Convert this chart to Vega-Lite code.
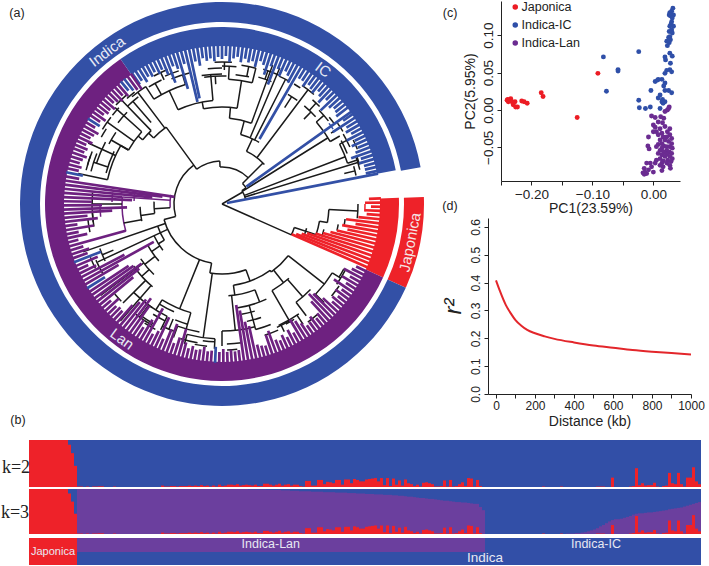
{"$schema":"https://vega.github.io/schema/vega-lite/v6.json","width":709,"height":566,"autosize":{"type":"fit","contains":"padding"},"padding":0,"background":"white","config":{"view":{"stroke":null},"font":"Liberation Sans","axis":{"grid":false,"labelFont":"Liberation Sans","titleFont":"Liberation Sans","labelColor":"#222","titleColor":"#222","domainColor":"#222","tickColor":"#222","titleFontWeight":"normal","labelFlush":false}},
"datasets":{
"samples":[{"s":1,"r":1,"p":0},{"s":2,"r":1,"p":0},{"s":3,"r":1,"p":0},{"s":4,"r":1,"p":0},{"s":5,"r":1,"p":0},{"s":6,"r":1,"p":0},{"s":7,"r":1,"p":0},{"s":8,"r":1,"p":0},{"s":9,"r":1,"p":0},{"s":10,"r":1,"p":0},{"s":11,"r":1,"p":0},{"s":12,"r":1,"p":0},{"s":13,"r":1,"p":0},{"s":14,"r":0.9,"p":0},{"s":15,"r":0.72,"p":0},{"s":16,"r":0.45,"p":0},{"s":17,"r":0.01,"p":1},{"s":18,"r":0.01,"p":1},{"s":19,"r":0,"p":1},{"s":20,"r":0.01,"p":1},{"s":21,"r":0,"p":1},{"s":22,"r":0.01,"p":1},{"s":23,"r":0.01,"p":1},{"s":24,"r":0.015,"p":1},{"s":25,"r":0.015,"p":1},{"s":26,"r":0,"p":1},{"s":27,"r":0,"p":1},{"s":28,"r":0,"p":1},{"s":29,"r":0.01,"p":1},{"s":30,"r":0,"p":1},{"s":31,"r":0,"p":1},{"s":32,"r":0,"p":1},{"s":33,"r":0,"p":1},{"s":34,"r":0,"p":1},{"s":35,"r":0,"p":1},{"s":36,"r":0,"p":1},{"s":37,"r":0,"p":1},{"s":38,"r":0,"p":1},{"s":39,"r":0,"p":1},{"s":40,"r":0,"p":1},{"s":41,"r":0,"p":1},{"s":42,"r":0,"p":1},{"s":43,"r":0,"p":1},{"s":44,"r":0,"p":1},{"s":45,"r":0.03,"p":1},{"s":46,"r":0.01,"p":1},{"s":47,"r":0.01,"p":1},{"s":48,"r":0.02,"p":1},{"s":49,"r":0.02,"p":1},{"s":50,"r":0.01,"p":1},{"s":51,"r":0.02,"p":1},{"s":52,"r":0.02,"p":1},{"s":53,"r":0.02,"p":1},{"s":54,"r":0.03,"p":1},{"s":55,"r":0.02,"p":1},{"s":56,"r":0.03,"p":1},{"s":57,"r":0.02,"p":1},{"s":58,"r":0.04,"p":1},{"s":59,"r":0.02,"p":1},{"s":60,"r":0.03,"p":1},{"s":61,"r":0.01,"p":1},{"s":62,"r":0.03,"p":1},{"s":63,"r":0.01,"p":1},{"s":64,"r":0.05,"p":1},{"s":65,"r":0.02,"p":1},{"s":66,"r":0.03,"p":1},{"s":67,"r":0.05,"p":1},{"s":68,"r":0.05,"p":1},{"s":69,"r":0.04,"p":1},{"s":70,"r":0.06,"p":1},{"s":71,"r":0.03,"p":1},{"s":72,"r":0.04,"p":1},{"s":73,"r":0.05,"p":1},{"s":74,"r":0.04,"p":0.99},{"s":75,"r":0.03,"p":0.99},{"s":76,"r":0.05,"p":0.99},{"s":77,"r":0.02,"p":0.99},{"s":78,"r":0.02,"p":0.99},{"s":79,"r":0.07,"p":0.99},{"s":80,"r":0.07,"p":0.98},{"s":81,"r":0.05,"p":0.98},{"s":82,"r":0.03,"p":0.98},{"s":83,"r":0.05,"p":0.98},{"s":84,"r":0.07,"p":0.98},{"s":85,"r":0.03,"p":0.97},{"s":86,"r":0.05,"p":0.97},{"s":87,"r":0.06,"p":0.97},{"s":88,"r":0.03,"p":0.96},{"s":89,"r":0.05,"p":0.96},{"s":90,"r":0.05,"p":0.96},{"s":91,"r":0.02,"p":0.95},{"s":92,"r":0.01,"p":0.95},{"s":93,"r":0.13,"p":0.95},{"s":94,"r":0.13,"p":0.95},{"s":95,"r":0.03,"p":0.94},{"s":96,"r":0.03,"p":0.94},{"s":97,"r":0.15,"p":0.94},{"s":98,"r":0.15,"p":0.94},{"s":99,"r":0.06,"p":0.93},{"s":100,"r":0.11,"p":0.93},{"s":101,"r":0.1,"p":0.93},{"s":102,"r":0.08,"p":0.93},{"s":103,"r":0.15,"p":0.92},{"s":104,"r":0.15,"p":0.92},{"s":105,"r":0.05,"p":0.92},{"s":106,"r":0.16,"p":0.92},{"s":107,"r":0.16,"p":0.91},{"s":108,"r":0.08,"p":0.91},{"s":109,"r":0.17,"p":0.91},{"s":110,"r":0.15,"p":0.9},{"s":111,"r":0.12,"p":0.9},{"s":112,"r":0.12,"p":0.9},{"s":113,"r":0.16,"p":0.89},{"s":114,"r":0.17,"p":0.89},{"s":115,"r":0.18,"p":0.89},{"s":116,"r":0.19,"p":0.88},{"s":117,"r":0.12,"p":0.88},{"s":118,"r":0.19,"p":0.88},{"s":119,"r":0.04,"p":0.87},{"s":120,"r":0.19,"p":0.87},{"s":121,"r":0.02,"p":0.87},{"s":122,"r":0.18,"p":0.86},{"s":123,"r":0.05,"p":0.86},{"s":124,"r":0.14,"p":0.85},{"s":125,"r":0.03,"p":0.85},{"s":126,"r":0.16,"p":0.84},{"s":127,"r":0.08,"p":0.83},{"s":128,"r":0.06,"p":0.83},{"s":129,"r":0.02,"p":0.82},{"s":130,"r":0.05,"p":0.81},{"s":131,"r":0.01,"p":0.8},{"s":132,"r":0.09,"p":0.8},{"s":133,"r":0.1,"p":0.79},{"s":134,"r":0.08,"p":0.78},{"s":135,"r":0.06,"p":0.78},{"s":136,"r":0.01,"p":0.77},{"s":137,"r":0.01,"p":0.76},{"s":138,"r":0.02,"p":0.75},{"s":139,"r":0.14,"p":0.74},{"s":140,"r":0.01,"p":0.74},{"s":141,"r":0.15,"p":0.73},{"s":142,"r":0.01,"p":0.72},{"s":143,"r":0.02,"p":0.71},{"s":144,"r":0.06,"p":0.71},{"s":145,"r":0.1,"p":0.7},{"s":146,"r":0.02,"p":0.7},{"s":147,"r":0.19,"p":0.69},{"s":148,"r":0.18,"p":0.68},{"s":149,"r":0.01,"p":0.67},{"s":150,"r":0.15,"p":0.67},{"s":151,"r":0.02,"p":0.6},{"s":152,"r":0,"p":0.53},{"s":153,"r":0,"p":0},{"s":154,"r":0,"p":0},{"s":155,"r":0,"p":0},{"s":156,"r":0,"p":0},{"s":157,"r":0,"p":0},{"s":158,"r":0,"p":0},{"s":159,"r":0,"p":0},{"s":160,"r":0,"p":0},{"s":161,"r":0,"p":0},{"s":162,"r":0,"p":0},{"s":163,"r":0,"p":0},{"s":164,"r":0,"p":0},{"s":165,"r":0,"p":0},{"s":166,"r":0,"p":0},{"s":167,"r":0,"p":0},{"s":168,"r":0,"p":0},{"s":169,"r":0,"p":0},{"s":170,"r":0,"p":0},{"s":171,"r":0,"p":0},{"s":172,"r":0.01,"p":0},{"s":173,"r":0,"p":0},{"s":174,"r":0,"p":0},{"s":175,"r":0,"p":0},{"s":176,"r":0,"p":0},{"s":177,"r":0,"p":0},{"s":178,"r":0.01,"p":0},{"s":179,"r":0,"p":0},{"s":180,"r":0,"p":0.01},{"s":181,"r":0,"p":0.01},{"s":182,"r":0,"p":0.01},{"s":183,"r":0,"p":0.02},{"s":184,"r":0,"p":0.02},{"s":185,"r":0,"p":0.03},{"s":186,"r":0,"p":0.04},{"s":187,"r":0,"p":0.06},{"s":188,"r":0,"p":0.08},{"s":189,"r":0,"p":0.1},{"s":190,"r":0.01,"p":0.13},{"s":191,"r":0.01,"p":0.17},{"s":192,"r":0.01,"p":0.2},{"s":193,"r":0,"p":0.24},{"s":194,"r":0,"p":0.28},{"s":195,"r":0.2,"p":0.31},{"s":196,"r":0,"p":0.33},{"s":197,"r":0,"p":0.33},{"s":198,"r":0,"p":0.34},{"s":199,"r":0,"p":0.36},{"s":200,"r":0,"p":0.38},{"s":201,"r":0.01,"p":0.4},{"s":202,"r":0.02,"p":0.43},{"s":203,"r":0.4,"p":0.45},{"s":204,"r":0.04,"p":0.46},{"s":205,"r":0.08,"p":0.46},{"s":206,"r":0.03,"p":0.47},{"s":207,"r":0.04,"p":0.48},{"s":208,"r":0.04,"p":0.48},{"s":209,"r":0.09,"p":0.49},{"s":210,"r":0.01,"p":0.5},{"s":211,"r":0,"p":0.51},{"s":212,"r":0.02,"p":0.52},{"s":213,"r":0.03,"p":0.53},{"s":214,"r":0.3,"p":0.55},{"s":215,"r":0.08,"p":0.56},{"s":216,"r":0.06,"p":0.57},{"s":217,"r":0.3,"p":0.58},{"s":218,"r":0.06,"p":0.59},{"s":219,"r":0.01,"p":0.61},{"s":220,"r":0.2,"p":0.63},{"s":221,"r":0.2,"p":0.65},{"s":222,"r":0.42,"p":0.67},{"s":223,"r":0.12,"p":0.69},{"s":224,"r":0.06,"p":0.71}],
"branches":[{"a":-3,"b":45,"r":37,"s":37,"k":"B"},{"a":-3,"b":-3,"r":37,"s":43,"k":"B"},{"a":-36,"b":-3,"r":43,"s":43,"k":"B"},{"a":-36,"b":-36,"r":43,"s":48,"k":"B"},{"a":-105,"b":-36,"r":48,"s":48,"k":"B"},{"a":-105,"b":-105,"r":48,"s":60,"k":"B"},{"a":-170,"b":-105,"r":60,"s":60,"k":"B"},{"a":190,"b":190,"r":60,"s":70,"k":"B"},{"a":160,"b":190,"r":70,"s":70,"k":"B"},{"a":60,"b":60,"r":0,"s":24,"k":"B"},{"a":56,"b":78,"r":24,"s":24,"k":"B"},{"a":56,"b":56,"r":24,"s":29,"k":"B"},{"a":45,"b":56,"r":29,"s":29,"k":"B"},{"a":45,"b":45,"r":29,"s":58,"k":"B"},{"a":114,"b":114,"r":0,"s":76,"k":"B"},
{"a":73,"b":73,"r":24,"s":142,"k":"B"},{"a":71,"b":76,"r":142,"s":142,"k":"B"},{"a":69,"b":69,"r":24,"s":132,"k":"B"},{"a":63,"b":72,"r":132,"s":132,"k":"B"},{"a":72,"b":72,"r":132,"s":143,"k":"B"},{"a":63,"b":63,"r":132,"s":140,"k":"B"},{"a":60,"b":66,"r":140,"s":140,"k":"B"},{"a":58,"b":58,"r":24,"s":125,"k":"B"},{"a":49,"b":60,"r":125,"s":125,"k":"B"},{"a":60,"b":60,"r":125,"s":136,"k":"B"},{"a":49,"b":49,"r":125,"s":135,"k":"B"},{"a":46,"b":52,"r":135,"s":135,"k":"B"},{"a":53,"b":56,"r":134,"s":134,"k":"I"},
{"a":25,"b":47,"r":58,"s":58,"k":"B"},{"a":37,"b":37,"r":58,"s":143,"k":"B"},{"a":34,"b":40,"r":143,"s":143,"k":"B"},{"a":25,"b":25,"r":58,"s":72,"k":"B"},{"a":15,"b":31,"r":72,"s":72,"k":"B"},{"a":27,"b":27,"r":72,"s":140,"k":"B"},{"a":24,"b":29,"r":140,"s":140,"k":"B"},{"a":23,"b":23,"r":72,"s":148,"k":"B"},{"a":15,"b":15,"r":72,"s":86,"k":"B"},{"a":5,"b":20,"r":86,"s":86,"k":"B"},{"a":20,"b":20,"r":86,"s":148,"k":"B"},{"a":5,"b":5,"r":86,"s":97,"k":"B"},{"a":-11,"b":9,"r":97,"s":97,"k":"B"},{"a":9,"b":9,"r":97,"s":125,"k":"B"},{"a":3,"b":14,"r":125,"s":125,"k":"B"},{"a":14,"b":14,"r":125,"s":140,"k":"B"},{"a":3,"b":3,"r":125,"s":138,"k":"B"},{"a":0,"b":6,"r":138,"s":138,"k":"B"},{"a":-11,"b":-11,"r":97,"s":104,"k":"B"},{"a":-25,"b":-5,"r":104,"s":104,"k":"B"},{"a":-5,"b":-5,"r":104,"s":130,"k":"B"},{"a":-9,"b":0,"r":130,"s":130,"k":"B"},{"a":-25,"b":-25,"r":104,"s":125,"k":"B"},{"a":-33,"b":-17,"r":125,"s":125,"k":"B"},{"a":-17,"b":-17,"r":125,"s":135,"k":"B"},{"a":-22,"b":-14,"r":135,"s":135,"k":"B"},{"a":-33,"b":-33,"r":125,"s":140,"k":"B"},{"a":-29,"b":-29,"r":125,"s":138,"k":"B"},{"a":-32,"b":-26,"r":138,"s":138,"k":"B"},
{"a":-36,"b":-36,"r":48,"s":95,"k":"B"},{"a":-46,"b":-36,"r":95,"s":95,"k":"B"},{"a":-37,"b":-37,"r":95,"s":140,"k":"B"},{"a":-40,"b":-33,"r":140,"s":140,"k":"B"},{"a":-46,"b":-46,"r":95,"s":102,"k":"B"},{"a":-51,"b":-44,"r":102,"s":102,"k":"B"},{"a":-44,"b":-44,"r":102,"s":145,"k":"B"},{"a":-47,"b":-41,"r":145,"s":145,"k":"B"},{"a":-51,"b":-51,"r":102,"s":108,"k":"B"},{"a":-60,"b":-48,"r":108,"s":108,"k":"B"},{"a":-48,"b":-48,"r":108,"s":144,"k":"B"},{"a":-54.5,"b":-54.5,"r":108,"s":141,"k":"B"},{"a":-58,"b":-52,"r":141,"s":141,"k":"B"},{"a":-60,"b":-60,"r":108,"s":117,"k":"B"},{"a":-78,"b":-60,"r":117,"s":117,"k":"B"},{"a":-65.5,"b":-65.5,"r":117,"s":147,"k":"B"},{"a":-78,"b":-78,"r":117,"s":147,"k":"B"},{"a":-72,"b":-62,"r":132,"s":132,"k":"B"},{"a":-76,"b":-68,"r":140,"s":140,"k":"B"},
{"a":266,"b":280,"r":52,"s":52,"k":"L"},{"a":274,"b":274,"r":52,"s":100,"k":"L"},{"a":254,"b":274,"r":100,"s":100,"k":"L"},{"a":266,"b":266,"r":52,"s":68,"k":"B"},{"a":262,"b":272,"r":68,"s":68,"k":"B"},{"a":262,"b":262,"r":68,"s":82,"k":"B"},{"a":258,"b":268,"r":82,"s":82,"k":"B"},{"a":259,"b":259,"r":82,"s":100,"k":"B"},{"a":270,"b":270,"r":100,"s":130,"k":"B"},{"a":262,"b":275,"r":130,"s":130,"k":"B"},{"a":258,"b":264,"r":135,"s":135,"k":"B"},{"a":264,"b":270,"r":122,"s":122,"k":"L"},{"a":272,"b":278,"r":88,"s":88,"k":"L"},{"a":271,"b":276,"r":110,"s":110,"k":"L"},
{"a":251,"b":251,"r":60,"s":147,"k":"B"},{"a":245,"b":245,"r":60,"s":137,"k":"B"},{"a":238,"b":251,"r":68,"s":68,"k":"B"},{"a":238,"b":238,"r":68,"s":75,"k":"B"},{"a":232,"b":245,"r":75,"s":75,"k":"B"},{"a":236,"b":236,"r":75,"s":85,"k":"B"},{"a":228,"b":241,"r":85,"s":85,"k":"B"},{"a":232,"b":232,"r":85,"s":98,"k":"B"},{"a":224,"b":236,"r":98,"s":98,"k":"B"},{"a":233,"b":233,"r":98,"s":152,"k":"B"},{"a":228,"b":228,"r":98,"s":108,"k":"B"},{"a":220,"b":235,"r":108,"s":108,"k":"B"},{"a":225,"b":225,"r":108,"s":140,"k":"B"},{"a":221,"b":221,"r":108,"s":155,"k":"B"},{"a":214,"b":225,"r":125,"s":125,"k":"B"},{"a":216,"b":216,"r":125,"s":140,"k":"B"},{"a":210,"b":218,"r":140,"s":140,"k":"B"},
{"a":160,"b":160,"r":70,"s":82,"k":"B"},{"a":144,"b":172,"r":82,"s":82,"k":"B"},{"a":144,"b":144,"r":82,"s":84,"k":"B"},{"a":128,"b":144,"r":84,"s":84,"k":"B"},{"a":128,"b":128,"r":84,"s":130,"k":"B"},{"a":122,"b":134,"r":130,"s":130,"k":"B"},{"a":122,"b":122,"r":130,"s":140,"k":"B"},{"a":118,"b":125,"r":140,"s":140,"k":"B"},{"a":134,"b":134,"r":130,"s":142,"k":"B"},{"a":142,"b":142,"r":84,"s":100,"k":"B"},{"a":138,"b":150,"r":100,"s":100,"k":"B"},{"a":139,"b":139,"r":100,"s":123,"k":"B"},{"a":134,"b":143,"r":123,"s":123,"k":"B"},{"a":143,"b":143,"r":123,"s":140,"k":"B"},{"a":150,"b":150,"r":100,"s":134,"k":"B"},{"a":145,"b":155,"r":134,"s":134,"k":"B"},{"a":146,"b":146,"r":134,"s":145,"k":"B"},{"a":154,"b":154,"r":134,"s":142,"k":"B"},{"a":172,"b":172,"r":82,"s":92,"k":"B"},{"a":159,"b":176,"r":92,"s":92,"k":"B"},{"a":159,"b":159,"r":92,"s":105,"k":"B"},{"a":155,"b":172,"r":105,"s":105,"k":"B"},{"a":174,"b":174,"r":92,"s":127,"k":"B"},{"a":165,"b":180,"r":127,"s":127,"k":"B"},{"a":165,"b":165,"r":105,"s":130,"k":"B"},{"a":180,"b":180,"r":127,"s":142,"k":"B"},{"a":163,"b":170,"r":112,"s":112,"k":"B"},{"a":161,"b":168,"r":120,"s":120,"k":"B"},{"a":158,"b":165,"r":130,"s":130,"k":"B"},{"a":156,"b":162,"r":138,"s":138,"k":"B"},{"a":188,"b":188,"r":70,"s":135,"k":"B"},{"a":183,"b":195,"r":135,"s":135,"k":"B"},{"a":183,"b":183,"r":135,"s":145,"k":"B"},{"a":195,"b":195,"r":135,"s":145,"k":"B"},{"a":190,"b":197,"r":141,"s":141,"k":"B"},{"a":202,"b":202,"r":60,"s":113,"k":"B"},{"a":196,"b":212,"r":113,"s":113,"k":"B"},{"a":196,"b":196,"r":113,"s":130,"k":"B"},{"a":212,"b":212,"r":113,"s":125,"k":"B"},{"a":206,"b":216,"r":125,"s":125,"k":"B"},{"a":206,"b":206,"r":125,"s":140,"k":"B"},{"a":190,"b":200,"r":130,"s":130,"k":"B"},{"a":200,"b":200,"r":130,"s":142,"k":"B"},{"a":208,"b":213,"r":142,"s":142,"k":"B"},
{"a":108,"b":114,"r":76,"s":76,"k":"B"},{"a":108,"b":108,"r":76,"s":99,"k":"B"},{"a":100,"b":108,"r":99,"s":99,"k":"B"},{"a":100,"b":100,"r":99,"s":107,"k":"B"},{"a":93,"b":100,"r":107,"s":107,"k":"B"},{"a":93,"b":93,"r":107,"s":136,"k":"B"},{"a":90,"b":96,"r":136,"s":136,"k":"B"},{"a":106,"b":110,"r":88,"s":88,"k":"B"},{"a":104,"b":108,"r":105,"s":105,"k":"B"},{"a":100,"b":103,"r":118,"s":118,"k":"B"},{"a":97,"b":100,"r":124,"s":124,"k":"B"},{"a":90,"b":93,"r":143,"s":143,"k":"J"},
{"a":-24,"b":-18,"r":140,"s":140,"k":"B"},{"a":-21,"b":-21,"r":132,"s":140,"k":"B"},{"a":-28,"b":-22,"r":145,"s":145,"k":"B"},{"a":-25,"b":-25,"r":137,"s":145,"k":"B"},{"a":-8,"b":2,"r":128,"s":128,"k":"B"},{"a":-3,"b":-3,"r":120,"s":128,"k":"B"},{"a":-6,"b":0,"r":136,"s":136,"k":"B"},{"a":-3,"b":4,"r":142,"s":142,"k":"B"},{"a":1,"b":1,"r":134,"s":142,"k":"B"},{"a":6,"b":12,"r":130,"s":130,"k":"B"},{"a":8,"b":14,"r":140,"s":140,"k":"B"},{"a":11,"b":11,"r":130,"s":140,"k":"B"},{"a":16,"b":22,"r":132,"s":132,"k":"B"},{"a":17,"b":24,"r":141,"s":141,"k":"B"},{"a":19,"b":19,"r":132,"s":141,"k":"B"},{"a":40,"b":47,"r":128,"s":128,"k":"B"},{"a":44,"b":44,"r":118,"s":128,"k":"B"},{"a":41,"b":45,"r":138,"s":138,"k":"B"},{"a":43,"b":43,"r":128,"s":138,"k":"B"},{"a":51,"b":54,"r":138,"s":138,"k":"B"},{"a":55,"b":59,"r":141,"s":141,"k":"B"},{"a":57,"b":57,"r":130,"s":141,"k":"B"},{"a":62,"b":68,"r":135,"s":135,"k":"B"},{"a":74,"b":78,"r":137,"s":137,"k":"B"},{"a":76,"b":76,"r":126,"s":137,"k":"B"},{"a":70,"b":74,"r":143,"s":143,"k":"B"},{"a":31,"b":36,"r":128,"s":128,"k":"B"},{"a":33,"b":33,"r":115,"s":128,"k":"B"},{"a":31,"b":34,"r":140,"s":140,"k":"B"},{"a":64,"b":68,"r":146,"s":146,"k":"B"},
{"a":284,"b":292,"r":135,"s":135,"k":"B"},{"a":288,"b":288,"r":120,"s":135,"k":"B"},{"a":286,"b":290,"r":140,"s":140,"k":"B"},{"a":298,"b":304,"r":128,"s":128,"k":"B"},{"a":300,"b":300,"r":108,"s":128,"k":"B"},{"a":299,"b":303,"r":138,"s":138,"k":"B"},{"a":308,"b":314,"r":132,"s":132,"k":"B"},{"a":309,"b":313,"r":141,"s":141,"k":"B"},{"a":316,"b":322,"r":136,"s":136,"k":"B"},{"a":319,"b":319,"r":108,"s":136,"k":"B"},{"a":318,"b":322,"r":142,"s":142,"k":"B"},{"a":285,"b":296,"r":120,"s":120,"k":"B"},{"a":260,"b":266,"r":130,"s":130,"k":"B"},{"a":240,"b":246,"r":138,"s":138,"k":"B"},{"a":244,"b":250,"r":130,"s":130,"k":"B"},{"a":247,"b":247,"r":118,"s":130,"k":"B"},{"a":243,"b":248,"r":142,"s":142,"k":"B"},{"a":196,"b":202,"r":125,"s":125,"k":"B"},{"a":200,"b":206,"r":136,"s":136,"k":"B"},{"a":203,"b":203,"r":125,"s":136,"k":"B"},{"a":204,"b":212,"r":118,"s":118,"k":"B"},{"a":206,"b":212,"r":130,"s":130,"k":"B"},{"a":210,"b":216,"r":138,"s":138,"k":"B"},{"a":226,"b":230,"r":140,"s":140,"k":"B"},{"a":183,"b":188,"r":138,"s":138,"k":"B"},{"a":186,"b":191,"r":143,"s":143,"k":"B"},{"a":172,"b":178,"r":140,"s":140,"k":"B"},{"a":174,"b":178,"r":146,"s":146,"k":"B"},{"a":150,"b":156,"r":135,"s":135,"k":"B"},{"a":118,"b":122,"r":138,"s":138,"k":"B"},{"a":125,"b":130,"r":143,"s":143,"k":"B"},{"a":139,"b":144,"r":146,"s":146,"k":"B"},{"a":148,"b":152,"r":136,"s":136,"k":"B"}],
"leaves":[{"t":-34.5,"r":145,"k":"I"},{"t":-33,"r":147,"k":"I"},{"t":-31.5,"r":143,"k":"I"},{"t":-30,"r":147,"k":"I"},{"t":-28.5,"r":145,"k":"I"},{"t":-27,"r":148,"k":"I"},{"t":-25.5,"r":144,"k":"I"},{"t":-24,"r":147,"k":"I"},{"t":-22.5,"r":140,"k":"I"},{"t":-21,"r":130,"k":"I"},{"t":-19.5,"r":146,"k":"I"},{"t":-18,"r":142,"k":"I"},{"t":-16.5,"r":120,"k":"I"},{"t":-15,"r":145,"k":"I"},{"t":-13.5,"r":105,"k":"I"},{"t":-12,"r":108,"k":"I"},{"t":-10.5,"r":145,"k":"I"},{"t":-9,"r":140,"k":"I"},{"t":-7.5,"r":147,"k":"I"},{"t":-6,"r":144,"k":"I"},{"t":-4.5,"r":146,"k":"I"},{"t":-3,"r":143,"k":"I"},{"t":-1.5,"r":147,"k":"I"},{"t":0,"r":145,"k":"I"},{"t":1.5,"r":148,"k":"I"},{"t":3,"r":142,"k":"I"},{"t":4.5,"r":146,"k":"I"},{"t":6,"r":148,"k":"I"},{"t":7.5,"r":143,"k":"I"},{"t":9,"r":147,"k":"I"},{"t":10.5,"r":144,"k":"I"},{"t":12,"r":146,"k":"I"},{"t":13.5,"r":141,"k":"I"},{"t":15,"r":148,"k":"I"},{"t":16.5,"r":145,"k":"I"},{"t":18,"r":136,"k":"I"},{"t":19.5,"r":146,"k":"I"},{"t":21,"r":128,"k":"I"},{"t":22.5,"r":146,"k":"I"},{"t":24,"r":140,"k":"I"},{"t":25.5,"r":147,"k":"I"},{"t":27,"r":144,"k":"I"},{"t":28.5,"r":138,"k":"I"},{"t":30,"r":75,"k":"I"},{"t":31.5,"r":147,"k":"I"},{"t":33,"r":147,"k":"I"},{"t":34.5,"r":143,"k":"I"},{"t":36,"r":147,"k":"I"},{"t":37.5,"r":145,"k":"I"},{"t":39,"r":143,"k":"I"},{"t":40.5,"r":148,"k":"I"},{"t":42,"r":145,"k":"I"},{"t":43.5,"r":140,"k":"I"},{"t":45,"r":147,"k":"I"},{"t":46.5,"r":136,"k":"I"},{"t":48,"r":144,"k":"I"},{"t":49.5,"r":147,"k":"I"},{"t":51,"r":146,"k":"I"},{"t":52.5,"r":144,"k":"I"},{"t":54.5,"r":30,"k":"I"},{"t":55.5,"r":147,"k":"I"},{"t":57,"r":132,"k":"I"},{"t":58.5,"r":146,"k":"I"},{"t":60,"r":143,"k":"I"},{"t":61.5,"r":147,"k":"I"},{"t":63,"r":140,"k":"I"},{"t":64.5,"r":147,"k":"I"},{"t":66,"r":142,"k":"I"},{"t":67.5,"r":147,"k":"I"},{"t":69,"r":143,"k":"I"},{"t":70.5,"r":137,"k":"I"},{"t":72,"r":146,"k":"I"},{"t":73.5,"r":143,"k":"I"},{"t":75,"r":147,"k":"I"},{"t":76.5,"r":147,"k":"I"},{"t":78,"r":147,"k":"I"},{"t":79,"r":5,"k":"I"},
{"t":88,"r":147,"k":"J"},{"t":89.5,"r":143,"k":"J"},{"t":91,"r":149,"k":"J"},{"t":92.5,"r":143,"k":"J"},{"t":94,"r":145,"k":"J"},{"t":95.5,"r":137,"k":"J"},{"t":97,"r":125,"k":"J"},{"t":98.5,"r":135,"k":"J"},{"t":100,"r":122,"k":"J"},{"t":101.5,"r":128,"k":"J"},{"t":103,"r":118,"k":"J"},{"t":104.5,"r":112,"k":"J"},{"t":106,"r":105,"k":"J"},{"t":107.5,"r":98,"k":"J"},{"t":109,"r":90,"k":"J"},{"t":110.5,"r":85,"k":"J"},{"t":112,"r":80,"k":"J"},{"t":113.5,"r":76,"k":"J"},
{"t":115,"r":148,"k":"L"},{"t":116.5,"r":145,"k":"L"},{"t":118,"r":138,"k":"L"},{"t":119.5,"r":147,"k":"L"},{"t":121,"r":140,"k":"L"},{"t":122.5,"r":147,"k":"L"},{"t":124,"r":135,"k":"L"},{"t":125.5,"r":147,"k":"L"},{"t":127,"r":142,"k":"L"},{"t":128.5,"r":148,"k":"L"},{"t":130,"r":144,"k":"L"},{"t":131.5,"r":147,"k":"L"},{"t":133,"r":138,"k":"L"},{"t":134.5,"r":128,"k":"L"},{"t":136,"r":125,"k":"L"},{"t":137.5,"r":132,"k":"L"},{"t":139,"r":145,"k":"L"},{"t":140.5,"r":148,"k":"L"},{"t":142,"r":143,"k":"L"},{"t":143.5,"r":147,"k":"L"},{"t":145,"r":148,"k":"L"},{"t":146.5,"r":143,"k":"L"},{"t":148,"r":138,"k":"L"},{"t":149.5,"r":134,"k":"L"},{"t":151,"r":147,"k":"L"},{"t":152.5,"r":142,"k":"L"},{"t":154,"r":148,"k":"L"},{"t":155.5,"r":144,"k":"L"},{"t":157,"r":148,"k":"L"},{"t":158.5,"r":146,"k":"L"},{"t":160,"r":135,"k":"L"},{"t":161.5,"r":138,"k":"L"},{"t":163,"r":148,"k":"L"},{"t":164.5,"r":147,"k":"L"},{"t":166,"r":145,"k":"L"},{"t":167.5,"r":125,"k":"L"},{"t":169,"r":120,"k":"L"},{"t":170.5,"r":108,"k":"L"},{"t":172,"r":102,"k":"L"},{"t":173.5,"r":147,"k":"L"},{"t":175,"r":148,"k":"L"},{"t":176.5,"r":146,"k":"L"},{"t":178,"r":148,"k":"L"},{"t":179.5,"r":145,"k":"L"},{"t":181,"r":148,"k":"L"},{"t":182.5,"r":143,"k":"I"},{"t":184,"r":147,"k":"L"},{"t":185.5,"r":148,"k":"L"},{"t":187,"r":144,"k":"L"},{"t":188.5,"r":147,"k":"L"},{"t":190,"r":148,"k":"L"},{"t":191.5,"r":145,"k":"L"},{"t":193,"r":148,"k":"L"},{"t":194.5,"r":143,"k":"L"},{"t":196,"r":130,"k":"L"},{"t":197.5,"r":140,"k":"L"},{"t":199,"r":147,"k":"L"},{"t":200.5,"r":128,"k":"L"},{"t":202,"r":135,"k":"L"},{"t":203.5,"r":147,"k":"L"},{"t":205,"r":125,"k":"L"},{"t":206.5,"r":142,"k":"L"},{"t":208,"r":147,"k":"L"},{"t":209.5,"r":120,"k":"L"},{"t":211,"r":135,"k":"L"},{"t":212.5,"r":146,"k":"L"},{"t":214,"r":140,"k":"L"},{"t":215.5,"r":125,"k":"L"},{"t":217,"r":118,"k":"L"},{"t":218.5,"r":122,"k":"L"},{"t":220,"r":128,"k":"L"},{"t":221.5,"r":135,"k":"L"},{"t":223,"r":146,"k":"L"},{"t":224.5,"r":145,"k":"L"},{"t":226,"r":147,"k":"L"},{"t":227.5,"r":140,"k":"L"},{"t":229,"r":147,"k":"L"},{"t":230.5,"r":115,"k":"L"},{"t":232,"r":105,"k":"L"},{"t":233.5,"r":100,"k":"L"},{"t":235,"r":108,"k":"L"},{"t":236.5,"r":112,"k":"L"},{"t":238,"r":138,"k":"I"},{"t":239.5,"r":120,"k":"L"},{"t":241,"r":78,"k":"L"},{"t":242.5,"r":110,"k":"L"},{"t":244,"r":140,"k":"L"},{"t":245.5,"r":147,"k":"L"},{"t":247,"r":135,"k":"L"},{"t":248.5,"r":130,"k":"I"},{"t":250,"r":143,"k":"L"},{"t":251.5,"r":140,"k":"L"},{"t":253,"r":145,"k":"L"},{"t":254.5,"r":100,"k":"L"},{"t":256,"r":148,"k":"L"},{"t":257.5,"r":138,"k":"L"},{"t":259,"r":146,"k":"L"},{"t":260.5,"r":130,"k":"L"},{"t":262,"r":146,"k":"L"},{"t":263.5,"r":125,"k":"L"},{"t":265,"r":135,"k":"L"},{"t":266.5,"r":110,"k":"L"},{"t":268,"r":95,"k":"L"},{"t":269.5,"r":120,"k":"L"},{"t":271,"r":130,"k":"L"},{"t":272.5,"r":90,"k":"L"},{"t":274,"r":100,"k":"L"},{"t":275.5,"r":70,"k":"L"},{"t":277,"r":60,"k":"L"},{"t":278.5,"r":48,"k":"L"},{"t":280,"r":145,"k":"L"},{"t":281.5,"r":142,"k":"I"},{"t":283,"r":147,"k":"L"},{"t":284.5,"r":145,"k":"L"},{"t":286,"r":148,"k":"L"},{"t":287.5,"r":146,"k":"L"},{"t":289,"r":143,"k":"L"},{"t":290.5,"r":147,"k":"L"},{"t":292,"r":145,"k":"L"},{"t":293.5,"r":148,"k":"L"},{"t":295,"r":143,"k":"L"},{"t":296.5,"r":147,"k":"L"},{"t":298,"r":145,"k":"L"},{"t":299.5,"r":142,"k":"L"},{"t":301,"r":148,"k":"L"},{"t":302.5,"r":145,"k":"I"},{"t":304,"r":147,"k":"L"},{"t":305.5,"r":143,"k":"L"},{"t":307,"r":148,"k":"L"},{"t":308.5,"r":145,"k":"L"},{"t":310,"r":146,"k":"L"},{"t":311.5,"r":143,"k":"L"},{"t":313,"r":148,"k":"L"},{"t":314.5,"r":146,"k":"L"},{"t":316,"r":143,"k":"L"},{"t":317.5,"r":147,"k":"L"},{"t":319,"r":143,"k":"L"},{"t":320.5,"r":147,"k":"I"},{"t":322,"r":144,"k":"I"},{"t":323.5,"r":142,"k":"L"},{"t":325,"r":140,"k":"L"}],
"pca":[{"x":-0.239,"y":0.014,"g":"Japonica"},{"x":-0.236,"y":0.013,"g":"Japonica"},{"x":-0.234,"y":0.015,"g":"Japonica"},{"x":-0.24,"y":0.013,"g":"Japonica"},{"x":-0.232,"y":0.011,"g":"Japonica"},{"x":-0.238,"y":0.011,"g":"Japonica"},{"x":-0.227,"y":0.011,"g":"Japonica"},{"x":-0.23,"y":0.007,"g":"Japonica"},{"x":-0.226,"y":0.004,"g":"Japonica"},{"x":-0.223,"y":0.004,"g":"Japonica"},{"x":-0.216,"y":0.012,"g":"Japonica"},{"x":-0.212,"y":0.011,"g":"Japonica"},{"x":-0.207,"y":0.009,"g":"Japonica"},{"x":-0.184,"y":0.023,"g":"Japonica"},{"x":-0.181,"y":0.018,"g":"Japonica"},{"x":-0.091,"y":0.049,"g":"Japonica"},{"x":-0.125,"y":-0.01,"g":"Japonica"},
{"x":-0.082,"y":0.071,"g":"Indica-IC"},{"x":-0.024,"y":0.078,"g":"Indica-IC"},{"x":-0.058,"y":0.054,"g":"Indica-IC"},{"x":-0.058,"y":0.052,"g":"Indica-IC"},{"x":-0.077,"y":0.025,"g":"Indica-IC"},{"x":-0.024,"y":0.013,"g":"Indica-IC"},{"x":-0.023,"y":0.003,"g":"Indica-IC"},{"x":-0.013,"y":0.002,"g":"Indica-IC"},{"x":-0.005,"y":0.004,"g":"Indica-IC"},{"x":0.032,"y":0.136,"g":"Indica-IC"},{"x":0.03,"y":0.132,"g":"Indica-IC"},{"x":0.027,"y":0.13,"g":"Indica-IC"},{"x":0.033,"y":0.127,"g":"Indica-IC"},{"x":0.028,"y":0.126,"g":"Indica-IC"},{"x":0.031,"y":0.123,"g":"Indica-IC"},{"x":0.026,"y":0.127,"g":"Indica-IC"},{"x":0.03,"y":0.118,"g":"Indica-IC"},{"x":0.029,"y":0.115,"g":"Indica-IC"},{"x":0.033,"y":0.112,"g":"Indica-IC"},{"x":0.027,"y":0.112,"g":"Indica-IC"},{"x":0.03,"y":0.107,"g":"Indica-IC"},{"x":0.026,"y":0.105,"g":"Indica-IC"},{"x":0.031,"y":0.103,"g":"Indica-IC"},{"x":0.027,"y":0.098,"g":"Indica-IC"},{"x":0.025,"y":0.097,"g":"Indica-IC"},{"x":0.028,"y":0.094,"g":"Indica-IC"},{"x":0.022,"y":0.092,"g":"Indica-IC"},{"x":0.026,"y":0.09,"g":"Indica-IC"},{"x":0.023,"y":0.086,"g":"Indica-IC"},{"x":0.027,"y":0.076,"g":"Indica-IC"},{"x":0.019,"y":0.071,"g":"Indica-IC"},{"x":0.031,"y":0.072,"g":"Indica-IC"},{"x":0.02,"y":0.067,"g":"Indica-IC"},{"x":0.028,"y":0.0625,"g":"Indica-IC"},{"x":0.027,"y":0.054,"g":"Indica-IC"},{"x":0.022,"y":0.053,"g":"Indica-IC"},{"x":0.019,"y":0.049,"g":"Indica-IC"},{"x":0.03,"y":0.051,"g":"Indica-IC"},{"x":0.014,"y":0.041,"g":"Indica-IC"},{"x":0.008,"y":0.041,"g":"Indica-IC"},{"x":0.003,"y":0.038,"g":"Indica-IC"},{"x":0.007,"y":0.04,"g":"Indica-IC"},{"x":0.019,"y":0.036,"g":"Indica-IC"},{"x":0.017,"y":0.032,"g":"Indica-IC"},{"x":-0.004,"y":0.026,"g":"Indica-IC"},{"x":0.019,"y":0.026,"g":"Indica-IC"},{"x":0.025,"y":0.026,"g":"Indica-IC"},{"x":0.03,"y":0.023,"g":"Indica-IC"},{"x":0.011,"y":0.02,"g":"Indica-IC"},{"x":0.008,"y":0.016,"g":"Indica-IC"},{"x":0.015,"y":0.014,"g":"Indica-IC"},{"x":0.019,"y":0.011,"g":"Indica-IC"},{"x":0.014,"y":0.011,"g":"Indica-IC"},{"x":0.016,"y":0.009,"g":"Indica-IC"},{"x":0.011,"y":0.002,"g":"Indica-IC"},
{"x":0.026,"y":0.004,"g":"Indica-Lan"},{"x":0.023,"y":0,"g":"Indica-Lan"},{"x":0.025,"y":0.002,"g":"Indica-Lan"},{"x":0.019,"y":-0.002,"g":"Indica-Lan"},{"x":-0.003,"y":-0.008,"g":"Indica-Lan"},{"x":0.003,"y":-0.01,"g":"Indica-Lan"},{"x":0.012,"y":-0.009,"g":"Indica-Lan"},{"x":0.017,"y":-0.011,"g":"Indica-Lan"},{"x":0.008,"y":-0.016,"g":"Indica-Lan"},{"x":0.015,"y":-0.017,"g":"Indica-Lan"},{"x":0,"y":-0.02,"g":"Indica-Lan"},{"x":0.003,"y":-0.023,"g":"Indica-Lan"},{"x":0.011,"y":-0.025,"g":"Indica-Lan"},{"x":0.019,"y":-0.022,"g":"Indica-Lan"},{"x":0.027,"y":-0.025,"g":"Indica-Lan"},{"x":0.023,"y":-0.029,"g":"Indica-Lan"},{"x":0.005,"y":-0.029,"g":"Indica-Lan"},{"x":0.014,"y":-0.031,"g":"Indica-Lan"},{"x":0,"y":-0.029,"g":"Indica-Lan"},{"x":0.008,"y":-0.033,"g":"Indica-Lan"},{"x":-0.008,"y":-0.036,"g":"Indica-Lan"},{"x":0.016,"y":-0.036,"g":"Indica-Lan"},{"x":0.027,"y":-0.033,"g":"Indica-Lan"},{"x":0.022,"y":-0.036,"g":"Indica-Lan"},{"x":0.03,"y":-0.038,"g":"Indica-Lan"},{"x":0.011,"y":-0.04,"g":"Indica-Lan"},{"x":0.019,"y":-0.04,"g":"Indica-Lan"},{"x":0.025,"y":-0.042,"g":"Indica-Lan"},{"x":0.03,"y":-0.045,"g":"Indica-Lan"},{"x":0.014,"y":-0.045,"g":"Indica-Lan"},{"x":0.008,"y":-0.046,"g":"Indica-Lan"},{"x":-0.009,"y":-0.048,"g":"Indica-Lan"},{"x":-0.007,"y":-0.052,"g":"Indica-Lan"},{"x":0.005,"y":-0.049,"g":"Indica-Lan"},{"x":0.017,"y":-0.048,"g":"Indica-Lan"},{"x":0.022,"y":-0.049,"g":"Indica-Lan"},{"x":0.027,"y":-0.049,"g":"Indica-Lan"},{"x":0.031,"y":-0.051,"g":"Indica-Lan"},{"x":0.014,"y":-0.051,"g":"Indica-Lan"},{"x":0.022,"y":-0.054,"g":"Indica-Lan"},{"x":0.011,"y":-0.054,"g":"Indica-Lan"},{"x":0.017,"y":-0.056,"g":"Indica-Lan"},{"x":0.026,"y":-0.056,"g":"Indica-Lan"},{"x":0.03,"y":-0.058,"g":"Indica-Lan"},{"x":0.008,"y":-0.058,"g":"Indica-Lan"},{"x":0.022,"y":-0.059,"g":"Indica-Lan"},{"x":0.014,"y":-0.06,"g":"Indica-Lan"},{"x":0.027,"y":-0.062,"g":"Indica-Lan"},{"x":0.019,"y":-0.062,"g":"Indica-Lan"},{"x":0.031,"y":-0.065,"g":"Indica-Lan"},{"x":0.011,"y":-0.065,"g":"Indica-Lan"},{"x":0.0235,"y":-0.067,"g":"Indica-Lan"},{"x":0.016,"y":-0.068,"g":"Indica-Lan"},{"x":0.029,"y":-0.069,"g":"Indica-Lan"},{"x":0.005,"y":-0.067,"g":"Indica-Lan"},{"x":0.022,"y":-0.071,"g":"Indica-Lan"},{"x":0.014,"y":-0.071,"g":"Indica-Lan"},{"x":0.027,"y":-0.074,"g":"Indica-Lan"},{"x":0.003,"y":-0.071,"g":"Indica-Lan"},{"x":0.028,"y":-0.078,"g":"Indica-Lan"},{"x":-0.011,"y":-0.071,"g":"Indica-Lan"},{"x":-0.005,"y":-0.071,"g":"Indica-Lan"},{"x":0.016,"y":-0.076,"g":"Indica-Lan"},{"x":0.011,"y":-0.074,"g":"Indica-Lan"},{"x":-0.015,"y":-0.078,"g":"Indica-Lan"},{"x":-0.017,"y":-0.084,"g":"Indica-Lan"},{"x":-0.014,"y":-0.083,"g":"Indica-Lan"},{"x":-0.011,"y":-0.085,"g":"Indica-Lan"},{"x":-0.015,"y":-0.086,"g":"Indica-Lan"},{"x":-0.008,"y":-0.08,"g":"Indica-Lan"},{"x":0.014,"y":-0.081,"g":"Indica-Lan"},{"x":-0.003,"y":-0.076,"g":"Indica-Lan"},{"x":0,"y":-0.083,"g":"Indica-Lan"}]
},
"layer":[
{"encoding":{"x":{"datum":0,"type":"quantitative","axis":null,"scale":{"domain":[-222,487],"range":[0,709],"zero":false,"nice":false}},"y":{"datum":0,"type":"quantitative","axis":null,"scale":{"domain":[-204,362],"range":[0,566],"zero":false,"nice":false}}},
"layer":[
{"data":{"values":[{"a":88,"b":114.5,"r":182,"s":202,"k":"J"},{"a":114.5,"b":439.5,"r":182,"s":202,"k":"I"},{"a":88,"b":114.5,"r":158,"s":177,"k":"J"},{"a":114.5,"b":325,"r":158,"s":177,"k":"L"},{"a":325,"b":439,"r":158,"s":177,"k":"I"}]},"mark":{"type":"arc"},"encoding":{"theta":{"field":"a","type":"quantitative","scale":{"domain":[0,360],"range":[0,6.28318]}},"theta2":{"field":"b"},"radius":{"field":"r","type":"quantitative","scale":{"type":"linear","domain":[0,300],"range":[0,300]}},"radius2":{"field":"s"},"fill":{"field":"k","type":"nominal","legend":null,"scale":{"domain":["I","L","J","B"],"range":["#3350A6","#6E2180","#EE2229","#1a1a1a"]}}}},
{"data":{"name":"branches"},"mark":{"type":"arc","filled":false,"strokeWidth":1.5},"encoding":{"theta":{"field":"a","type":"quantitative","scale":{"domain":[0,360],"range":[0,6.28318]}},"theta2":{"field":"b"},"radius":{"field":"r","type":"quantitative","scale":{"type":"linear","domain":[0,300],"range":[0,300]}},"radius2":{"field":"s"},"stroke":{"field":"k","type":"nominal","legend":null,"scale":{"domain":["I","L","J","B"],"range":["#3350A6","#6E2180","#EE2229","#1a1a1a"]}}}},
{"data":{"name":"leaves"},"mark":{"type":"arc","filled":false,"strokeWidth":2.7},"encoding":{"theta":{"field":"t","type":"quantitative","scale":{"domain":[0,360],"range":[0,6.28318]}},"theta2":{"field":"t"},"radius":{"field":"r","type":"quantitative","scale":{"type":"linear","domain":[0,300],"range":[0,300]}},"radius2":{"datum":159},"stroke":{"field":"k","type":"nominal","legend":null,"scale":{"domain":["I","L","J","B"],"range":["#3350A6","#6E2180","#EE2229","#1a1a1a"]}}}},
{"data":{"values":[{"t":-37,"r":191,"l":"Indica"}]},"mark":{"type":"text","angle":-37,"color":"#e6e9f5","fontSize":15,"font":"Liberation Sans"},"encoding":{"theta":{"field":"t","type":"quantitative","scale":{"domain":[0,360],"range":[0,6.28318]}},"radius":{"field":"r","type":"quantitative","scale":{"type":"linear","domain":[0,300],"range":[0,300]}},"text":{"field":"l"}}},
{"data":{"values":[{"t":37,"r":168,"l":"IC"}]},"mark":{"type":"text","angle":37,"color":"#e6e9f5","fontSize":15,"font":"Liberation Sans"},"encoding":{"theta":{"field":"t","type":"quantitative","scale":{"domain":[0,360],"range":[0,6.28318]}},"radius":{"field":"r","type":"quantitative","scale":{"type":"linear","domain":[0,300],"range":[0,300]}},"text":{"field":"l"}}},
{"data":{"values":[{"t":216.5,"r":168,"l":"Lan"}]},"mark":{"type":"text","angle":36,"color":"#e6e9f5","fontSize":15,"font":"Liberation Sans"},"encoding":{"theta":{"field":"t","type":"quantitative","scale":{"domain":[0,360],"range":[0,6.28318]}},"radius":{"field":"r","type":"quantitative","scale":{"type":"linear","domain":[0,300],"range":[0,300]}},"text":{"field":"l"}}},
{"data":{"values":[{"t":101.5,"r":192,"l":"Japonica"}]},"mark":{"type":"text","angle":-79,"color":"#f5e6e6","fontSize":15,"font":"Liberation Sans"},"encoding":{"theta":{"field":"t","type":"quantitative","scale":{"domain":[0,360],"range":[0,6.28318]}},"radius":{"field":"r","type":"quantitative","scale":{"type":"linear","domain":[0,300],"range":[0,300]}},"text":{"field":"l"}}}
]},
{"data":{"values":[{"x":-205,"y":-191,"l":"(a)"},{"x":-204,"y":216,"l":"(b)"},{"x":228,"y":-191,"l":"(c)"},{"x":228,"y":2,"l":"(d)"}]},"mark":{"type":"text","fontSize":12.5,"color":"#222","font":"Liberation Sans"},"encoding":{"x":{"field":"x","type":"quantitative","axis":null,"scale":{"domain":[-222,487],"range":[0,709],"zero":false,"nice":false}},"y":{"field":"y","type":"quantitative","axis":null,"scale":{"domain":[-204,362],"range":[0,566],"zero":false,"nice":false}},"text":{"field":"l"}}},
{"data":{"name":"pca"},"mark":{"type":"circle","size":24,"opacity":1},"encoding":{"x":{"field":"x","type":"quantitative","scale":{"domain":[-0.25,0.0437],"range":[501,680],"zero":false,"nice":false},"axis":{"orient":"bottom","offset":-385,"title":"PC1(23.59%)","titleFontSize":14,"labelFontSize":13.5,"values":[-0.25,-0.2,-0.15,-0.1,-0.05,0],"format":".2f","labelExpr":"round(abs(datum.value*100))%10==0 ? datum.label : ''","tickSize":4,"labelPadding":2,"titlePadding":1}},"y":{"field":"y","type":"quantitative","scale":{"domain":[-0.0949,0.1457],"range":[181,1],"zero":false,"nice":false},"axis":{"orient":"left","offset":-501,"title":"PC2(5.95%)","titleFontSize":14,"labelFontSize":13.5,"values":[-0.05,0,0.05,0.1],"format":".2f","labelAngle":-90,"labelAlign":"center","labelBaseline":"bottom","tickSize":4,"labelPadding":2,"titlePadding":4}},"color":{"field":"g","type":"nominal","scale":{"domain":["Japonica","Indica-IC","Indica-Lan"],"range":["#EC1C24","#2F4FA8","#6B2C91"]},"legend":{"orient":"none","legendX":509,"legendY":2,"title":null,"labelFontSize":12.5,"labelFont":"Liberation Sans","labelColor":"#222","symbolType":"circle","symbolSize":30,"clipHeight":10,"rowPadding":5,"padding":0,"labelOffset":0,"symbolStrokeWidth":0}}}},
{"data":{"values":[{"d":0,"v":0.408},{"d":20,"v":0.37},{"d":50,"v":0.32},{"d":80,"v":0.285},{"d":100,"v":0.265},{"d":130,"v":0.245},{"d":160,"v":0.23},{"d":200,"v":0.218},{"d":250,"v":0.207},{"d":300,"v":0.198},{"d":400,"v":0.185},{"d":500,"v":0.174},{"d":600,"v":0.166},{"d":700,"v":0.158},{"d":800,"v":0.152},{"d":900,"v":0.147},{"d":1000,"v":0.142}]},"mark":{"type":"line","color":"#E3262B","strokeWidth":2,"interpolate":"monotone"},"encoding":{"x":{"field":"d","type":"quantitative","scale":{"domain":[-41,1000],"range":[488,691],"zero":false,"nice":false},"axis":{"orient":"bottom","offset":-172,"title":"Distance (kb)","titleFontSize":14,"labelFontSize":12,"values":[0,100,200,300,400,500,600,700,800,900,1000],"labelExpr":"datum.value%200==0 ? datum.value : ''","tickSize":4,"labelPadding":2,"titlePadding":3,"labelOverlap":false}},"y":{"field":"v","type":"quantitative","scale":{"domain":[0,0.632],"range":[394,218],"zero":false,"nice":false},"axis":{"orient":"left","offset":-488,"title":"r²","titleFontSize":24,"titleFontStyle":"italic","labelFontSize":12,"values":[0,0.1,0.2,0.3,0.4,0.5,0.6],"format":".1f","labelAngle":-90,"labelAlign":"center","labelBaseline":"bottom","tickSize":4,"labelPadding":2,"titlePadding":4}}}},
{"data":{"name":"samples"},"encoding":{"x":{"field":"s","type":"ordinal","axis":null,"scale":{"range":[29,701],"paddingInner":0,"paddingOuter":0}}},"layer":[
{"mark":{"type":"rect","color":"#324FA7"},"encoding":{"y":{"datum":1,"type":"quantitative","axis":null,"scale":{"domain":[0,1],"range":[487,440],"nice":false}},"y2":{"datum":0}}},
{"mark":{"type":"rect","color":"#EE2229"},"encoding":{"y":{"field":"r","type":"quantitative","axis":null,"scale":{"domain":[0,1],"range":[487,440],"nice":false}},"y2":{"datum":0}}}
]},
{"data":{"name":"samples"},"encoding":{"x":{"field":"s","type":"ordinal","axis":null,"scale":{"range":[29,701],"paddingInner":0,"paddingOuter":0}}},"layer":[
{"mark":{"type":"rect","color":"#324FA7"},"encoding":{"y":{"datum":1,"type":"quantitative","axis":null,"scale":{"domain":[0,1],"range":[534,489],"nice":false}},"y2":{"datum":0}}},
{"mark":{"type":"rect","color":"#6B3F9E"},"encoding":{"y":{"field":"p","type":"quantitative","axis":null,"scale":{"domain":[0,1],"range":[534,489],"nice":false}},"y2":{"datum":0}}},
{"mark":{"type":"rect","color":"#EE2229"},"encoding":{"y":{"field":"r","type":"quantitative","axis":null,"scale":{"domain":[0,1],"range":[534,489],"nice":false}},"y2":{"datum":0}}}
]},
{"encoding":{"x":{"field":"a","type":"quantitative","axis":null,"scale":{"domain":[0,224],"range":[29,701],"zero":false,"nice":false}},"y":{"field":"lo","type":"quantitative","axis":null,"scale":{"domain":[0,1],"range":[565,538],"nice":false}}},"layer":[
{"data":{"values":[{"a":0,"b":16,"lo":0,"hi":1}]},"mark":{"type":"rect","color":"#EE2229"},"encoding":{"x2":{"field":"b"},"y2":{"field":"hi"}}},
{"data":{"values":[{"a":16,"b":224,"lo":0,"hi":1}]},"mark":{"type":"rect","color":"#324FA7"},"encoding":{"x2":{"field":"b"},"y2":{"field":"hi"}}},
{"data":{"values":[{"a":16,"b":152,"lo":0.48,"hi":1}]},"mark":{"type":"rect","color":"#6B3F9E"},"encoding":{"x2":{"field":"b"},"y2":{"field":"hi"}}},
{"data":{"values":[{"a":8,"lo":0.5,"l":"Japonica"}]},"mark":{"type":"text","color":"#E8E8F2","fontSize":11,"font":"Liberation Sans"},"encoding":{"text":{"field":"l"}}},
{"data":{"values":[{"a":80.6,"lo":0.78,"l":"Indica-Lan"},{"a":189,"lo":0.78,"l":"Indica-IC"}]},"mark":{"type":"text","color":"#E8E8F2","fontSize":12.5,"font":"Liberation Sans"},"encoding":{"text":{"field":"l"}}},
{"data":{"values":[{"a":152,"lo":0.26,"l":"Indica"}]},"mark":{"type":"text","color":"#E8E8F2","fontSize":13.5,"font":"Liberation Sans"},"encoding":{"text":{"field":"l"}}}
]},
{"data":{"values":[{"x":-206,"y":264,"l":"k=2"},{"x":-207,"y":309,"l":"k=3"}]},"mark":{"type":"text","fontSize":18,"font":"Liberation Serif","color":"#222"},"encoding":{"x":{"field":"x","type":"quantitative","axis":null,"scale":{"domain":[-222,487],"range":[0,709],"zero":false,"nice":false}},"y":{"field":"y","type":"quantitative","axis":null,"scale":{"domain":[-204,362],"range":[0,566],"zero":false,"nice":false}},"text":{"field":"l"}}}
],"resolve":{"scale":{"x":"independent","y":"independent"}}}
